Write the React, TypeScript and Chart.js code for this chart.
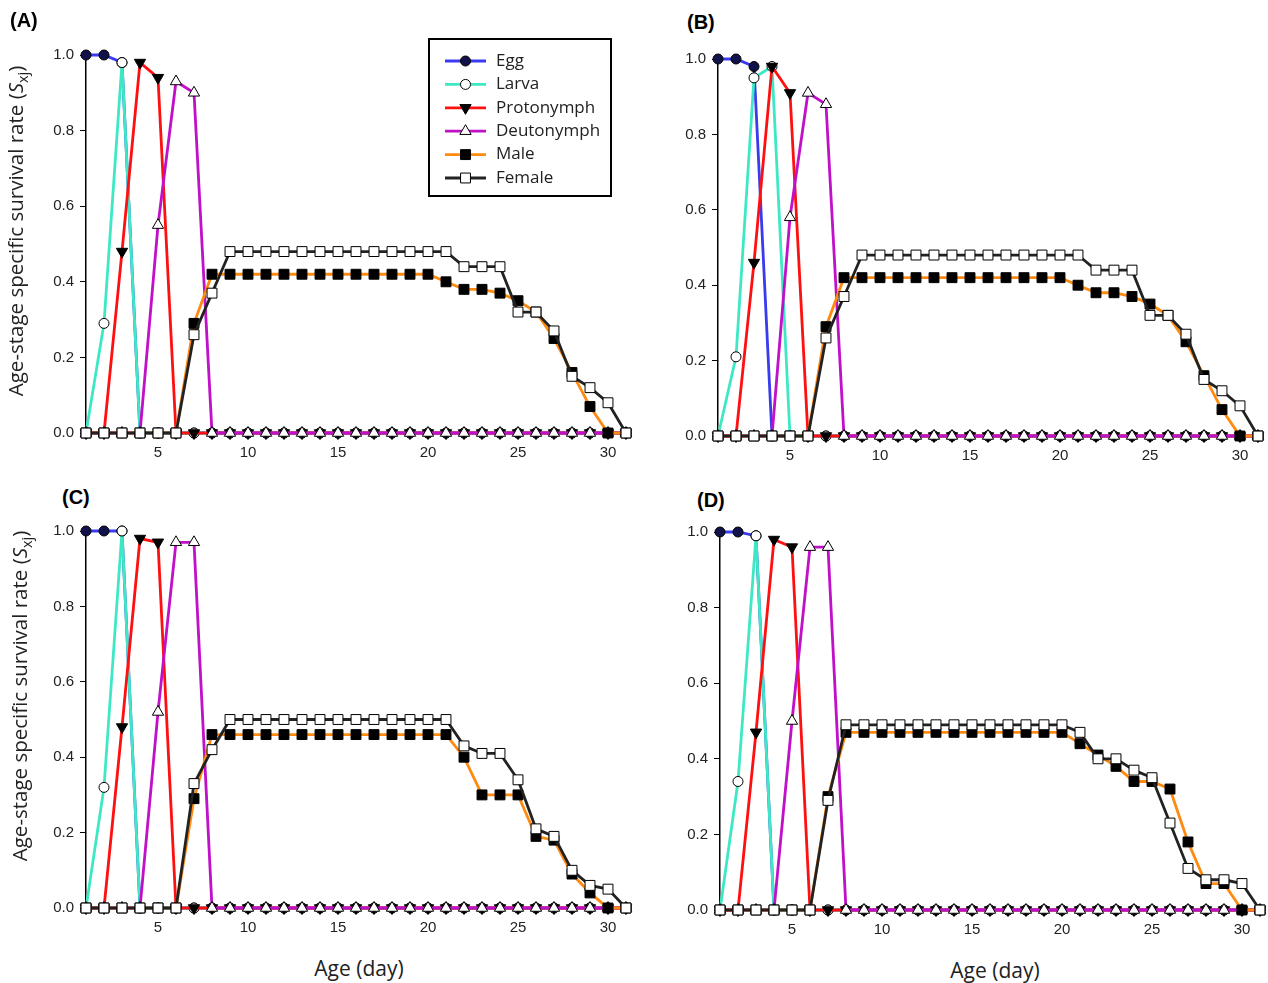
import React, { useEffect, useRef } from 'react';
import { Chart, registerables } from 'chart.js';
Chart.register(...registerables);

// ---------- data ----------
const DAYS = [1, 2, 3, 4, 5, 6, 7, 8, 9, 10, 11, 12, 13, 14, 15, 16, 17, 18, 19, 20, 21, 22, 23, 24, 25, 26, 27, 28, 29, 30, 31];
const X_TICKS = [5, 10, 15, 20, 25, 30];
const Y_TICKS = [0, 0.2, 0.4, 0.6, 0.8, 1.0];
const STAGES = ['Egg', 'Larva', 'Protonymph', 'Deutonymph', 'Male', 'Female'];

// Panel A
const EGG_A = [1, 1, 0.98, 0, 0, 0, 0, 0, 0, 0, 0, 0, 0, 0, 0, 0, 0, 0, 0, 0, 0, 0, 0, 0, 0, 0, 0, 0, 0, 0, 0];
const LARVA_A = [0, 0.29, 0.98, 0, 0, 0, 0, 0, 0, 0, 0, 0, 0, 0, 0, 0, 0, 0, 0, 0, 0, 0, 0, 0, 0, 0, 0, 0, 0, 0, 0];
const PROTO_A = [0, 0, 0.48, 0.98, 0.94, 0, 0, 0, 0, 0, 0, 0, 0, 0, 0, 0, 0, 0, 0, 0, 0, 0, 0, 0, 0, 0, 0, 0, 0, 0, 0];
const DEUTO_A = [0, 0, 0, 0, 0.55, 0.93, 0.90, 0, 0, 0, 0, 0, 0, 0, 0, 0, 0, 0, 0, 0, 0, 0, 0, 0, 0, 0, 0, 0, 0, 0, 0];
const MALE_A = [0, 0, 0, 0, 0, 0, 0.29, 0.42, 0.42, 0.42, 0.42, 0.42, 0.42, 0.42, 0.42, 0.42, 0.42, 0.42, 0.42, 0.42, 0.40, 0.38, 0.38, 0.37, 0.35, 0.32, 0.25, 0.16, 0.07, 0, 0];
const FEMALE_A = [0, 0, 0, 0, 0, 0, 0.26, 0.37, 0.48, 0.48, 0.48, 0.48, 0.48, 0.48, 0.48, 0.48, 0.48, 0.48, 0.48, 0.48, 0.48, 0.44, 0.44, 0.44, 0.32, 0.32, 0.27, 0.15, 0.12, 0.08, 0];

// Panel B
const EGG_B = [1, 1, 0.98, 0, 0, 0, 0, 0, 0, 0, 0, 0, 0, 0, 0, 0, 0, 0, 0, 0, 0, 0, 0, 0, 0, 0, 0, 0, 0, 0, 0];
const LARVA_B = [0, 0.21, 0.95, 0.98, 0, 0, 0, 0, 0, 0, 0, 0, 0, 0, 0, 0, 0, 0, 0, 0, 0, 0, 0, 0, 0, 0, 0, 0, 0, 0, 0];
const PROTO_B = [0, 0, 0.46, 0.98, 0.91, 0, 0, 0, 0, 0, 0, 0, 0, 0, 0, 0, 0, 0, 0, 0, 0, 0, 0, 0, 0, 0, 0, 0, 0, 0, 0];
const DEUTO_B = [0, 0, 0, 0, 0.58, 0.91, 0.88, 0, 0, 0, 0, 0, 0, 0, 0, 0, 0, 0, 0, 0, 0, 0, 0, 0, 0, 0, 0, 0, 0, 0, 0];
const MALE_B = [0, 0, 0, 0, 0, 0, 0.29, 0.42, 0.42, 0.42, 0.42, 0.42, 0.42, 0.42, 0.42, 0.42, 0.42, 0.42, 0.42, 0.42, 0.40, 0.38, 0.38, 0.37, 0.35, 0.32, 0.25, 0.16, 0.07, 0, 0];
const FEMALE_B = [0, 0, 0, 0, 0, 0, 0.26, 0.37, 0.48, 0.48, 0.48, 0.48, 0.48, 0.48, 0.48, 0.48, 0.48, 0.48, 0.48, 0.48, 0.48, 0.44, 0.44, 0.44, 0.32, 0.32, 0.27, 0.15, 0.12, 0.08, 0];

// Panel C
const EGG_C = [1, 1, 1, 0, 0, 0, 0, 0, 0, 0, 0, 0, 0, 0, 0, 0, 0, 0, 0, 0, 0, 0, 0, 0, 0, 0, 0, 0, 0, 0, 0];
const LARVA_C = [0, 0.32, 1.0, 0, 0, 0, 0, 0, 0, 0, 0, 0, 0, 0, 0, 0, 0, 0, 0, 0, 0, 0, 0, 0, 0, 0, 0, 0, 0, 0, 0];
const PROTO_C = [0, 0, 0.48, 0.98, 0.97, 0, 0, 0, 0, 0, 0, 0, 0, 0, 0, 0, 0, 0, 0, 0, 0, 0, 0, 0, 0, 0, 0, 0, 0, 0, 0];
const DEUTO_C = [0, 0, 0, 0, 0.52, 0.97, 0.97, 0, 0, 0, 0, 0, 0, 0, 0, 0, 0, 0, 0, 0, 0, 0, 0, 0, 0, 0, 0, 0, 0, 0, 0];
const MALE_C = [0, 0, 0, 0, 0, 0, 0.29, 0.46, 0.46, 0.46, 0.46, 0.46, 0.46, 0.46, 0.46, 0.46, 0.46, 0.46, 0.46, 0.46, 0.46, 0.40, 0.30, 0.30, 0.30, 0.19, 0.18, 0.09, 0.04, 0, 0];
const FEMALE_C = [0, 0, 0, 0, 0, 0, 0.33, 0.42, 0.50, 0.50, 0.50, 0.50, 0.50, 0.50, 0.50, 0.50, 0.50, 0.50, 0.50, 0.50, 0.50, 0.43, 0.41, 0.41, 0.34, 0.21, 0.19, 0.10, 0.06, 0.05, 0];

// Panel D
const EGG_D = [1, 1, 0.99, 0, 0, 0, 0, 0, 0, 0, 0, 0, 0, 0, 0, 0, 0, 0, 0, 0, 0, 0, 0, 0, 0, 0, 0, 0, 0, 0, 0];
const LARVA_D = [0, 0.34, 0.99, 0, 0, 0, 0, 0, 0, 0, 0, 0, 0, 0, 0, 0, 0, 0, 0, 0, 0, 0, 0, 0, 0, 0, 0, 0, 0, 0, 0];
const PROTO_D = [0, 0, 0.47, 0.98, 0.96, 0, 0, 0, 0, 0, 0, 0, 0, 0, 0, 0, 0, 0, 0, 0, 0, 0, 0, 0, 0, 0, 0, 0, 0, 0, 0];
const DEUTO_D = [0, 0, 0, 0, 0.50, 0.96, 0.96, 0, 0, 0, 0, 0, 0, 0, 0, 0, 0, 0, 0, 0, 0, 0, 0, 0, 0, 0, 0, 0, 0, 0, 0];
const MALE_D = [0, 0, 0, 0, 0, 0, 0.30, 0.47, 0.47, 0.47, 0.47, 0.47, 0.47, 0.47, 0.47, 0.47, 0.47, 0.47, 0.47, 0.47, 0.44, 0.41, 0.38, 0.34, 0.34, 0.32, 0.18, 0.07, 0.07, 0, 0];
const FEMALE_D = [0, 0, 0, 0, 0, 0, 0.29, 0.49, 0.49, 0.49, 0.49, 0.49, 0.49, 0.49, 0.49, 0.49, 0.49, 0.49, 0.49, 0.49, 0.47, 0.40, 0.40, 0.37, 0.35, 0.23, 0.11, 0.08, 0.08, 0.07, 0];

// ---------- styles ----------
type StageStyle = { line: string; pointStyle: string; fill: string; radius: number; rotation: number };
const STAGE_STYLES: StageStyle[] = [
  { line: '#3a3af0', pointStyle: 'circle', fill: '#12124a', radius: 5, rotation: 0 },
  { line: '#3ee8c4', pointStyle: 'circle', fill: '#ffffff', radius: 5, rotation: 0 },
  { line: '#ff1010', pointStyle: 'triangle', fill: '#000000', radius: 6.5, rotation: 180 },
  { line: '#c010c8', pointStyle: 'triangle', fill: '#ffffff', radius: 6.5, rotation: 0 },
  { line: '#ff8a10', pointStyle: 'rect', fill: '#000000', radius: 7, rotation: 0 },
  { line: '#222222', pointStyle: 'rect', fill: '#ffffff', radius: 7, rotation: 0 },
];

const TICK_FONT = { family: '"Liberation Sans", Arial, sans-serif', size: 15 };
const TEXT_COLOR = '#222';
const LINE_W = 2.8;

type PanelCfg = {
  label: string;
  left: number; top: number; width: number; height: number;
  yw: number; padTop: number; padRight: number; xh: number;
  series: number[][];
  legend: boolean;
};

const PANELS: PanelCfg[] = [
  { label: '(A)', left: 6, top: 30, width: 628, height: 438, yw: 80, padTop: 25, padRight: 8, xh: 35, series: [EGG_A, LARVA_A, PROTO_A, DEUTO_A, MALE_A, FEMALE_A], legend: true },
  { label: '(B)', left: 638, top: 44, width: 628, height: 427, yw: 80, padTop: 15, padRight: 8, xh: 35, series: [EGG_B, LARVA_B, PROTO_B, DEUTO_B, MALE_B, FEMALE_B], legend: false },
  { label: '(C)', left: 6, top: 516, width: 628, height: 427, yw: 80, padTop: 15, padRight: 8, xh: 35, series: [EGG_C, LARVA_C, PROTO_C, DEUTO_C, MALE_C, FEMALE_C], legend: false },
  { label: '(D)', left: 640, top: 517, width: 628, height: 428, yw: 80, padTop: 15, padRight: 5, xh: 35, series: [EGG_D, LARVA_D, PROTO_D, DEUTO_D, MALE_D, FEMALE_D], legend: false },
];

function drawMarker(ctx: CanvasRenderingContext2D, st: StageStyle, x: number, y: number) {
  ctx.save();
  ctx.beginPath();
  const r = st.radius;
  if (st.pointStyle === 'circle') {
    ctx.arc(x, y, r, 0, Math.PI * 2);
  } else if (st.pointStyle === 'rect') {
    const s = r * Math.SQRT1_2;
    ctx.rect(x - s, y - s, 2 * s, 2 * s);
  } else {
    let rad = (st.rotation * Math.PI) / 180;
    const t = (2 * Math.PI) / 3;
    ctx.moveTo(x + Math.sin(rad) * r, y - Math.cos(rad) * r);
    rad += t;
    ctx.lineTo(x + Math.sin(rad) * r, y - Math.cos(rad) * r);
    rad += t;
    ctx.lineTo(x + Math.sin(rad) * r, y - Math.cos(rad) * r);
    ctx.closePath();
  }
  ctx.fillStyle = st.fill;
  ctx.fill();
  ctx.lineWidth = 1;
  ctx.strokeStyle = '#000';
  ctx.stroke();
  ctx.restore();
}

// Legend drawn inside panel A (page coordinates converted to canvas coordinates)
const LEGEND_BOX = { x: 428, y: 38, w: 184, h: 159 };
function makeLegendPlugin(offX: number, offY: number) {
  return {
    id: 'stageLegend',
    afterDraw(chart: any) {
      const ctx: CanvasRenderingContext2D = chart.ctx;
      ctx.save();
      ctx.fillStyle = '#fff';
      ctx.fillRect(LEGEND_BOX.x - offX, LEGEND_BOX.y - offY, LEGEND_BOX.w, LEGEND_BOX.h);
      ctx.lineWidth = 2;
      ctx.strokeStyle = '#000';
      ctx.strokeRect(LEGEND_BOX.x - offX + 1, LEGEND_BOX.y - offY + 1, LEGEND_BOX.w - 2, LEGEND_BOX.h - 2);
      STAGES.forEach((name, i) => {
        const st = STAGE_STYLES[i];
        const y = 61 + i * 23.4 - offY;
        const x0 = 445 - offX;
        const x1 = 486 - offX;
        ctx.beginPath();
        ctx.moveTo(x0, y);
        ctx.lineTo(x1, y);
        ctx.lineWidth = LINE_W;
        ctx.strokeStyle = st.line;
        ctx.stroke();
        drawMarker(ctx, st, (x0 + x1) / 2, y);
        ctx.fillStyle = TEXT_COLOR;
        ctx.font = '17px "Open Sans", sans-serif';
        ctx.textBaseline = 'middle';
        ctx.textAlign = 'left';
        ctx.fillText(name, 496 - offX, y);
      });
      ctx.restore();
    },
  };
}

function Panel({ cfg }: { cfg: PanelCfg }) {
  const ref = useRef<HTMLCanvasElement | null>(null);
  useEffect(() => {
    if (!ref.current) return;
    // reverse order so that Egg is drawn first (bottom) and Female last (top)
    const datasets = STAGES.map((name, i) => {
      const st = STAGE_STYLES[i];
      return {
        label: name,
        data: DAYS.map((d, k) => ({ x: d, y: cfg.series[i][k] })),
        borderColor: st.line,
        borderWidth: LINE_W,
        backgroundColor: st.fill,
        pointStyle: st.pointStyle,
        pointRadius: st.radius,
        pointRotation: st.rotation,
        pointBackgroundColor: st.fill,
        pointBorderColor: '#000',
        pointBorderWidth: 1,
        tension: 0,
        fill: false,
        clip: false as any,
      };
    }).reverse();

    const plugins: any[] = [];
    if (cfg.legend) plugins.push(makeLegendPlugin(cfg.left, cfg.top));

    const chart = new Chart(ref.current, {
      type: 'line',
      data: { datasets: datasets as any },
      plugins,
      options: {
        responsive: false,
        animation: false,
        devicePixelRatio: 1,
        layout: { padding: { left: 0, top: cfg.padTop, right: cfg.padRight, bottom: 0 } },
        plugins: { legend: { display: false }, tooltip: { enabled: false }, title: { display: false } },
        events: [],
        scales: {
          x: {
            type: 'linear',
            min: 1,
            max: 31,
            afterFit: (s: any) => { s.height = cfg.xh; },
            afterBuildTicks: (s: any) => { s.ticks = X_TICKS.map((v) => ({ value: v })); },
            grid: { display: false, drawTicks: false },
            border: { display: true, color: '#000', width: 1 },
            ticks: { font: TICK_FONT, color: TEXT_COLOR, padding: 11, maxRotation: 0, autoSkip: false },
          },
          y: {
            type: 'linear',
            min: 0,
            max: 1,
            afterFit: (s: any) => { s.width = cfg.yw; },
            afterBuildTicks: (s: any) => { s.ticks = Y_TICKS.map((v) => ({ value: v })); },
            grid: { display: true, drawOnChartArea: false, drawTicks: true, tickLength: 6, color: '#000', lineWidth: 1 },
            border: { display: true, color: '#000', width: 1.5 },
            ticks: {
              font: TICK_FONT,
              color: TEXT_COLOR,
              padding: 6,
              autoSkip: false,
              callback: (v: any) => Number(v).toFixed(1),
            },
          },
        },
      } as any,
    });
    return () => chart.destroy();
  }, [cfg]);
  return (
    <canvas
      ref={ref}
      width={cfg.width}
      height={cfg.height}
      style={{ position: 'absolute', left: cfg.left, top: cfg.top, width: cfg.width, height: cfg.height }}
    />
  );
}

const PANEL_LABELS = [
  { text: '(A)', x: 10, y: 20 },
  { text: '(B)', x: 687, y: 22 },
  { text: '(C)', x: 62, y: 497 },
  { text: '(D)', x: 697, y: 500 },
];
const Y_TITLES = [
  { x: 18, y: 231 },
  { x: 22, y: 696 },
];
const X_TITLES = [
  { x: 359, y: 968 },
  { x: 995, y: 970 },
];

export default function App() {
  const titleFont = '"Open Sans", sans-serif';
  return (
    <div style={{ position: 'absolute', left: 0, top: 0, width: 1268, height: 983, background: '#fff', overflow: 'hidden' }}>
      {PANELS.map((p) => (
        <Panel key={p.label} cfg={p} />
      ))}
      {PANEL_LABELS.map((l) => (
        <div
          key={l.text}
          style={{
            position: 'absolute', left: l.x, top: l.y, transform: 'translateY(-50%)',
            font: 'bold 20px "Liberation Sans", Arial, sans-serif', color: '#000', whiteSpace: 'nowrap', lineHeight: 1,
          }}
        >
          {l.text}
        </div>
      ))}
      {Y_TITLES.map((t, i) => (
        <div
          key={'yt' + i}
          style={{
            position: 'absolute', left: t.x, top: t.y, transform: 'translate(-50%, -50%) rotate(-90deg)',
            fontFamily: titleFont, fontSize: 20.5, color: TEXT_COLOR, whiteSpace: 'nowrap', lineHeight: 1,
          }}
        >
          Age-stage specific survival rate (<i>S</i>
          <sub style={{ fontSize: '70%' }}>xj</sub>)
        </div>
      ))}
      {X_TITLES.map((t, i) => (
        <div
          key={'xt' + i}
          style={{
            position: 'absolute', left: t.x, top: t.y, transform: 'translate(-50%, -50%)',
            fontFamily: titleFont, fontSize: 21, color: TEXT_COLOR, whiteSpace: 'nowrap', lineHeight: 1,
          }}
        >
          Age (day)
        </div>
      ))}
    </div>
  );
}
